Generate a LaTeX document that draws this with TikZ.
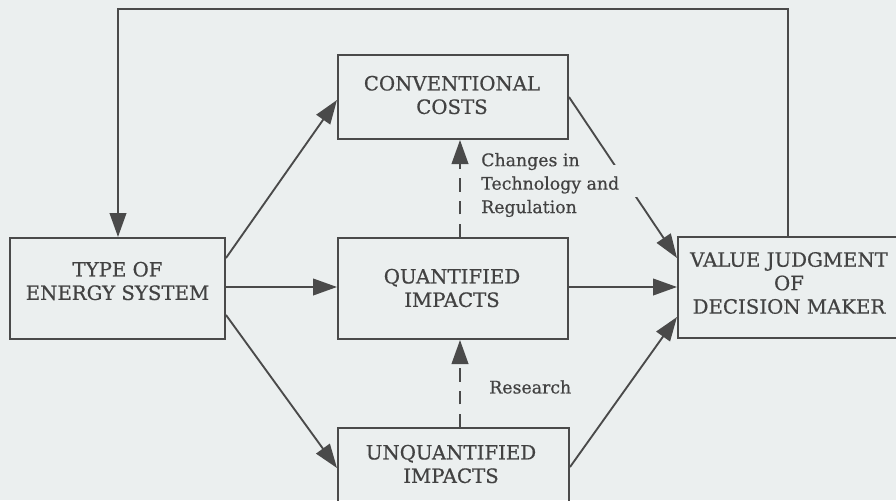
\documentclass[tikz,border=0pt]{standalone}
\usepackage{fontspec}
\setmainfont{DejaVu Serif}
\newfontfamily\inkface[FakeBold=0.6]{DejaVu Serif}
\usetikzlibrary{arrows.meta}
\definecolor{paper}{HTML}{EBEFEF}
\definecolor{ink}{HTML}{4A4A4A}
\definecolor{inktext}{HTML}{424242}
\begin{document}
\begin{tikzpicture}[x=0.75pt,y=-0.75pt,
  box/.style={draw=ink, line width=1.5pt, inner sep=0pt},
  caps/.style={text=inktext, inner sep=0pt, align=center,
    font=\inkface\fontsize{14.8}{17.6}\selectfont},
  arr/.style={draw=ink, line width=1.4pt,
    -{Triangle[length=18pt,width=12.5pt]}},
  dasharr/.style={arr, dash pattern=on 10pt off 7pt},
  lbl/.style={text=inktext, inner sep=0pt, align=left,
    font=\inkface\fontsize{13}{17.6}\selectfont}]
\fill[paper] (0,0) rectangle (896,500);
\useasboundingbox (0,0) rectangle (896,500);

% boxes (sizes in pt: 0.75pt per unit)
\node[box, minimum width=161.25pt, minimum height=75.75pt] (typ) at (117.5,288.5) {};
\node[box, minimum width=172.5pt,  minimum height=63pt]    (cc)  at (453,97) {};
\node[box, minimum width=172.5pt,  minimum height=75.75pt] (qi)  at (453,288.5) {};
\node[box, minimum width=173.25pt, minimum height=63pt]    (uq)  at (453.5,470) {};
\node[box, minimum width=174pt,    minimum height=75.75pt] (vj)  at (794,287.5) {};

% box texts
\node[caps] (typt) at (117.5,281) {TYPE OF\\ENERGY SYSTEM};
\node[caps] (cct)  at (452,95)    {CONVENTIONAL\\COSTS};
\node[caps] (qit)  at (452,288)   {QUANTIFIED\\IMPACTS};
\node[caps] (uqt)  at (451,464)   {UNQUANTIFIED\\IMPACTS};
\node[caps] (vjt)  at (789,283)   {VALUE JUDGMENT\\OF\\DECISION MAKER};

% feedback loop across the top
\coordinate (loopR) at (788,9);
\coordinate (loopL) at (118,9);
\draw[arr] (vj.north -| loopR) -- (loopR) -- (loopL) -- (typ.north -| loopL);

% from the energy system
\draw[arr] (typ.east |- 0,258) -- (cc.west |- 0,100);
\draw[arr] (typ.east |- 0,287) -- (qi.west |- 0,287);
\draw[arr] (typ.east |- 0,315) -- (uq.west |- 0,468);

% into the value judgment
\draw[arr] (cc.east) -- (vj.west |- 0,258);
\draw[arr] (qi.east |- 0,287) -- (vj.west |- 0,287);
\draw[arr] (uq.east |- 0,467) -- (vj.west |- 0,317);

% dashed transfers between impact classes
\draw[dasharr] (uq.north -| 460,0) -- (qi.south -| 460,0);
\draw[dasharr] (qi.north -| 460,0) -- (cc.south -| 460,0);

% break in the cost line behind the label
\fill[paper] (609,165) rectangle (642,197);

% labels
\node[lbl, anchor=west] (chg) at (481,185) {Changes in\\Technology and\\Regulation};
\node[lbl, anchor=west] (res) at (489,387) {Research};
\end{tikzpicture}
\end{document}
